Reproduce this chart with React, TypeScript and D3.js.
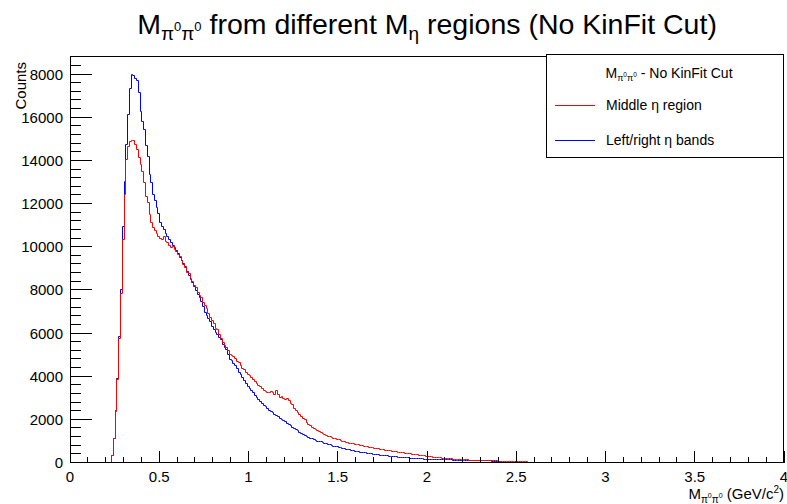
import React from "react";
import * as d3 from "d3";

const BIN_WIDTH = 0.01;
const X_MIN = 0;
const X_MAX = 4;
const Y_MAX = 18837;
const FIRST_BIN = 0.22;

// Left/right eta bands (blue), bins of 0.01 starting at 0.22
const blueCounts = [
  0, 300, 1100, 2400, 3850, 5800, 8000, 10900, 13000, 14700,
  16100, 17300, 17940, 17900, 17750, 17700, 17100, 16250, 15800, 15400,
  14650, 14170, 13300, 12950, 12400, 12100, 11800, 11500, 11090, 10900,
  10780, 10600, 10470, 10300, 10160, 10050, 9930, 9800, 9650, 9470,
  9350, 9200, 9080, 8850, 8650, 8460, 8300, 8150, 7950, 7750,
  7600, 7460, 7200, 6920, 6800, 6650, 6530, 6300, 6150, 5995,
  5900, 5750, 5685, 5450, 5300, 5220, 5000, 4760, 4700, 4550,
  4450, 4350, 4140, 4050, 3900, 3755, 3650, 3500, 3400, 3300,
  3200, 3100, 3000, 2900, 2800, 2720, 2620, 2550, 2470, 2400,
  2350, 2280, 2220, 2160, 2100, 2030, 1970, 1920, 1860, 1800,
  1740, 1680, 1620, 1560, 1510, 1460, 1390, 1320, 1270, 1210,
  1170, 1130, 1100, 1070, 1030, 1000, 970, 950, 930, 900,
  870, 840, 820, 790, 770, 740, 720, 700, 680, 660,
  640, 620, 600, 575, 560, 540, 520, 505, 490, 475,
  460, 445, 430, 420, 400, 390, 375, 360, 350, 340,
  330, 320, 310, 300, 290, 280, 270, 262, 252, 245,
  238, 228, 222, 215, 210, 202, 195, 190, 185, 178,
  172, 165, 160, 155, 148, 142, 135, 132, 130, 126,
  122, 120, 117, 115, 112, 108, 105, 102, 100, 98,
  95, 94, 92, 90, 88, 86, 84, 83, 82, 80,
  78, 76, 74, 72, 70, 68, 66, 64, 62, 60,
  57, 54, 52, 50, 46, 42, 38, 34, 25, 0,
];

// Middle eta region (red), bins of 0.01 starting at 0.22
const redCounts = [
  0, 300, 1100, 2350, 3800, 5700, 7800, 10300, 12400, 14000,
  14600, 14850, 14912, 14900, 14700, 14500, 14100, 13790, 13480, 12940,
  12320, 12010, 11470, 11090, 10860, 10750, 10600, 10470, 10350, 10310,
  10440, 10200, 10160, 10050, 9950, 10000, 9850, 9750, 9600, 9500,
  9350, 9150, 9000, 8800, 8750, 8500, 8380, 8200, 8100, 7850,
  7700, 7620, 7400, 7250, 7100, 6900, 6700, 6550, 6400, 6200,
  6150, 5900, 5700, 5550, 5400, 5300, 5150, 5000, 4950, 4910,
  4800, 4650, 4600, 4450, 4350, 4300, 4150, 4050, 3990, 3900,
  3800, 3750, 3650, 3550, 3500, 3400, 3300, 3250, 3220, 3200,
  3250, 3200, 3150, 3300, 3150, 3000, 3050, 2950, 2900, 2920,
  2850, 2700, 2650, 2500, 2400, 2300, 2200, 2100, 2000, 1950,
  1850, 1750, 1700, 1620, 1550, 1500, 1450, 1420, 1380, 1320,
  1280, 1230, 1200, 1160, 1120, 1100, 1070, 1050, 1020, 990,
  960, 940, 920, 900, 880, 860, 840, 830, 810, 790,
  770, 750, 740, 720, 700, 690, 670, 650, 640, 620,
  610, 590, 580, 570, 555, 540, 525, 510, 500, 490,
  475, 460, 450, 440, 425, 410, 400, 390, 375, 365,
  350, 340, 330, 320, 305, 295, 280, 270, 258, 248,
  238, 228, 220, 210, 200, 190, 182, 172, 165, 158,
  150, 145, 138, 132, 128, 122, 115, 110, 105, 100,
  96, 92, 88, 84, 80, 77, 74, 71, 68, 66,
  63, 60, 58, 55, 52, 50, 47, 45, 42, 40,
  36, 34, 30, 28, 25, 22, 20, 18, 15, 12,
  10, 8, 5, 3, 0,
];

const xTickValues = [0, 0.5, 1, 1.5, 2, 2.5, 3, 3.5, 4];
const xTickLabels = ["0", "0.5", "1", "1.5", "2", "2.5", "3", "3.5", "4"];
const yTickValues = [0, 2000, 4000, 6000, 8000, 10000, 12000, 14000, 16000, 18000];
const yTickLabels = ["0", "2000", "4000", "6000", "8000", "10000", "12000", "14000", "16000", "8000"];

const seriesNames = ["Middle \u03b7 region", "Left/right \u03b7 bands"];
const seriesColors = ["#ff0000", "#0000ff"];

const FONT = "'Liberation Sans', Arial, Helvetica, sans-serif";

export default function App() {
  const W = 787;
  const H = 504;
  const left = 70;
  const right = 784;
  const top = 56;
  const bottom = 462.5;

  const x = d3.scaleLinear().domain([X_MIN, X_MAX]).range([left, right]);
  const y = d3.scaleLinear().domain([0, Y_MAX]).range([bottom, top]);

  const histPath = (counts: number[]) => {
    const nBins = Math.round((X_MAX - X_MIN) / BIN_WIDTH);
    const first = Math.round(FIRST_BIN / BIN_WIDTH);
    const pts: [number, number][] = [];
    for (let i = 0; i < nBins; i++) {
      const k = i - first;
      const c = k >= 0 && k < counts.length ? counts[k] : 0;
      pts.push([X_MIN + i * BIN_WIDTH, c]);
      pts.push([X_MIN + (i + 1) * BIN_WIDTH, c]);
    }
    return d3
      .line<[number, number]>()
      .x((d) => Math.round(x(d[0])) + 0.5)
      .y((d) => Math.round(y(d[1])) - 0.5)(pts) as string;
  };

  const xMinor = d3.range(0, 41).map((i) => i * 0.1);
  const yMinor = d3.range(0, 48).map((i) => i * 400).filter((v) => v <= Y_MAX);

  const axisY = Math.round(bottom) - 0.5;
  const axisX = left + 0.5;

  return (
    <svg
      width={W}
      height={H}
      style={{ position: "absolute", left: 0, top: 0, background: "#fff" }}
      fontFamily={FONT}
    >
      <rect x={0} y={0} width={W} height={H} fill="#fff" />

      {/* title */}
      <text x={427} y={34} textAnchor="middle" fontSize={28.5} fill="#000">
        M
        <tspan fontSize={19} dy={6}>π</tspan>
        <tspan fontSize={13} dy={-9}>0</tspan>
        <tspan fontSize={19} dy={9}>π</tspan>
        <tspan fontSize={13} dy={-9}>0</tspan>
        <tspan fontSize={28.5} dy={3}> from different M</tspan>
        <tspan fontSize={19} dy={6}>η</tspan>
        <tspan fontSize={28.5} dy={-6}> regions (No KinFit Cut)</tspan>
      </text>

      {/* histograms */}
      <path d={histPath(blueCounts)} fill="none" stroke={seriesColors[1]} strokeWidth={1} />
      <path d={histPath(redCounts)} fill="none" stroke={seriesColors[0]} strokeWidth={1} />

      {/* frame */}
      <rect
        x={axisX}
        y={top + 0.5}
        width={right - left - 1}
        height={axisY - top - 0.5}
        fill="none"
        stroke="#000"
        strokeWidth={1}
        shapeRendering="crispEdges"
      />

      {/* ticks */}
      <g stroke="#000" strokeWidth={1} shapeRendering="crispEdges">
        {xMinor.map((v, i) => (
          <line key={"xm" + i} x1={x(v)} x2={x(v)} y1={axisY} y2={axisY - 6} />
        ))}
        {xTickValues.map((v, i) => (
          <line key={"xM" + i} x1={x(v)} x2={x(v)} y1={axisY} y2={axisY - 12} />
        ))}
        {yMinor.map((v, i) => (
          <line key={"ym" + i} x1={axisX} x2={axisX + 10.5} y1={y(v)} y2={y(v)} />
        ))}
        {yTickValues.map((v, i) => (
          <line key={"yM" + i} x1={axisX} x2={axisX + 21} y1={y(v)} y2={y(v)} />
        ))}
      </g>

      {/* x tick labels */}
      <g fontSize={15} fill="#000" textAnchor="middle">
        {xTickValues.map((v, i) => (
          <text key={"xl" + i} x={x(v)} y={482}>
            {xTickLabels[i]}
          </text>
        ))}
      </g>
      {/* y tick labels */}
      <g fontSize={15} fill="#000" textAnchor="end">
        {yTickValues.map((v, i) => (
          <text key={"yl" + i} x={63} y={y(v) + 5.5}>
            {yTickLabels[i]}
          </text>
        ))}
      </g>

      {/* axis titles */}
      <text x={784} y={499} textAnchor="end" fontSize={15} fill="#000">
        M
        <tspan fontSize={10} dy={4}>π</tspan>
        <tspan fontSize={7} dy={-5}>0</tspan>
        <tspan fontSize={10} dy={5}>π</tspan>
        <tspan fontSize={7} dy={-5}>0</tspan>
        <tspan fontSize={15} dy={1}> (GeV/c</tspan>
        <tspan fontSize={10} dy={-6}>2</tspan>
        <tspan fontSize={15} dy={6}>)</tspan>
      </text>
      <text
        transform="translate(26,62) rotate(-90)"
        textAnchor="end"
        fontSize={15}
        fill="#000"
      >
        Counts
      </text>

      {/* legend */}
      <g>
        <rect x={546.5} y={54.5} width={237} height={103} fill="#fff" stroke="#000" strokeWidth={1} shapeRendering="crispEdges" />
        <text x={669} y={78} textAnchor="middle" fontSize={14} fill="#000">
          M
          <tspan fontSize={9} dy={3}>π</tspan>
          <tspan fontSize={6.5} dy={-4}>0</tspan>
          <tspan fontSize={9} dy={4}>π</tspan>
          <tspan fontSize={6.5} dy={-4}>0</tspan>
          <tspan fontSize={14} dy={1}> - No KinFit Cut</tspan>
        </text>
        {seriesNames.map((name, i) => (
          <g key={name}>
            <line
              x1={555}
              x2={595}
              y1={105.5 + i * 35}
              y2={105.5 + i * 35}
              stroke={seriesColors[i]}
              strokeWidth={1}
              shapeRendering="crispEdges"
            />
            <text x={606} y={110 + i * 35} fontSize={14} fill="#000">
              {name}
            </text>
          </g>
        ))}
      </g>
    </svg>
  );
}
